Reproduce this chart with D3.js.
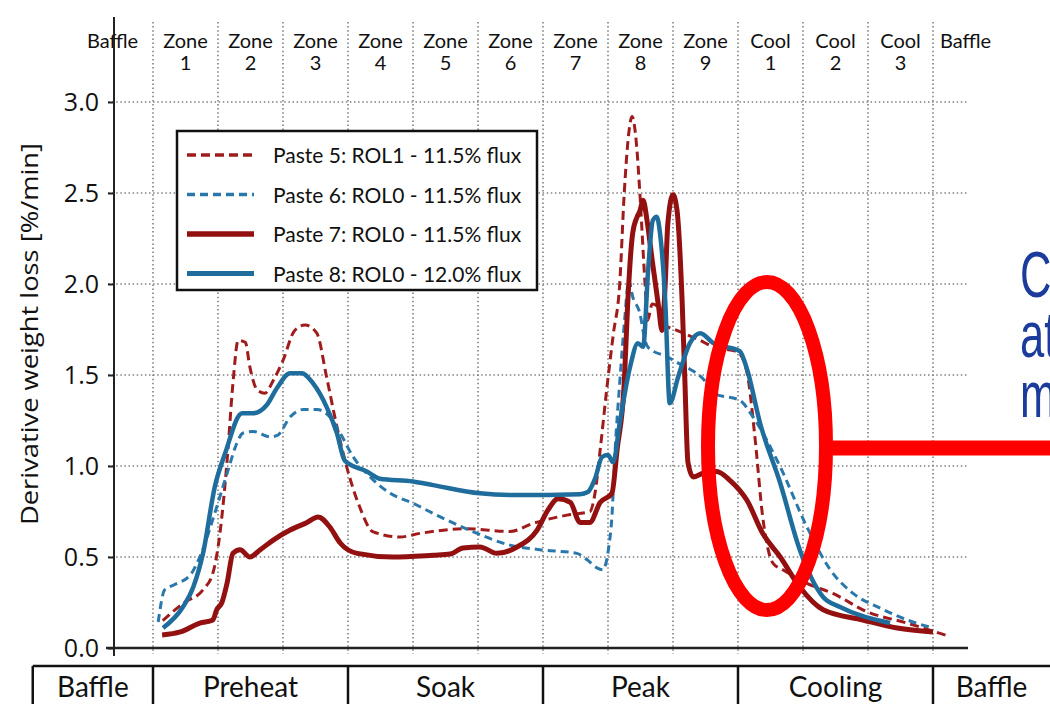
<!DOCTYPE html>
<html>
<head>
<meta charset="utf-8">
<script src="https://d3js.org/d3.v7.min.js"></script>
<style>
  body { margin: 0; background: #fff; }
  svg { display: block; }
  .grid line { stroke: #808080; stroke-width: 1.6; stroke-dasharray: 1.5,2.6; }
  .ytick text { font-family: "Open Sans", sans-serif; font-size: 25px; fill: #111; }
  .zone { font-family: Lato, sans-serif; font-size: 20px; fill: #111; text-anchor: middle; }
  .section { font-family: Lato, sans-serif; font-size: 28px; fill: #111; text-anchor: middle; }
  .legend text { font-family: Lato, sans-serif; font-size: 21px; fill: #111; }
</style>
</head>
<body>
<script>
// zone units: 0 = start of entry baffle, each zone is one unit wide
var zoneLabels = [["Baffle"], ["Zone", "1"], ["Zone", "2"], ["Zone", "3"], ["Zone", "4"], ["Zone", "5"],
  ["Zone", "6"], ["Zone", "7"], ["Zone", "8"], ["Zone", "9"], ["Cool", "1"], ["Cool", "2"], ["Cool", "3"], ["Baffle"]];
var yTicks = [0, 0.5, 1.0, 1.5, 2.0, 2.5, 3.0];
var sectionNames = ["Baffle", "Preheat", "Soak", "Peak", "Cooling", "Baffle"];
var sectionEdges = [-0.85, 1, 4, 7, 10, 13, 14.8];

var paste5 = [[1.15,0.15],[1.46,0.245],[1.77,0.32],[1.92,0.41],[2.03,0.63],[2.14,1.03],[2.23,1.455],[2.31,1.69],
  [2.42,1.68],[2.49,1.545],[2.6,1.42],[2.72,1.40],[2.85,1.47],[3.0,1.58],[3.18,1.745],[3.34,1.775],[3.52,1.73],
  [3.67,1.49],[3.83,1.215],[3.98,0.995],[4.18,0.775],[4.38,0.64],[4.8,0.61],[5.11,0.63],[5.83,0.655],[6.49,0.64],
  [6.85,0.685],[7.37,0.73],[7.72,0.75],[7.8,0.85],[7.88,1.09],[7.98,1.42],[8.08,1.72],[8.18,2.0],[8.25,2.5],
  [8.32,2.83],[8.37,2.92],[8.44,2.76],[8.49,2.5],[8.57,2.0],[8.61,1.80],[8.68,1.89],[8.75,1.88],[8.83,1.785],
  [9.06,1.745],[9.42,1.69],[9.62,1.655],[9.83,1.64],[10.0,1.625],[10.14,1.51],[10.26,1.16],[10.38,0.72],
  [10.54,0.465],[10.69,0.43],[11.06,0.355],[11.46,0.30],[11.98,0.20],[12.6,0.137],[13.2,0.07]];

var paste6 = [[1.08,0.143],[1.18,0.32],[1.31,0.345],[1.57,0.40],[1.72,0.50],[1.95,0.74],[2.14,0.96],[2.29,1.125],
  [2.38,1.18],[2.54,1.19],[2.8,1.16],[2.92,1.17],[3.11,1.27],[3.31,1.31],[3.52,1.31],[3.72,1.27],[3.88,1.18],
  [4.08,1.05],[4.34,0.94],[4.65,0.85],[5.0,0.795],[5.42,0.72],[5.92,0.64],[6.49,0.565],[6.95,0.54],[7.52,0.52],
  [7.68,0.485],[7.83,0.44],[7.92,0.43],[8.01,0.55],[8.06,0.72],[8.11,1.09],[8.18,1.455],[8.26,1.82],[8.32,2.02],
  [8.38,1.93],[8.49,1.84],[8.57,1.69],[8.62,1.65],[8.91,1.60],[9.11,1.56],[9.22,1.54],[9.52,1.455],[9.62,1.40],
  [10.03,1.36],[10.23,1.27],[10.65,0.995],[11.06,0.665],[11.42,0.43],[11.77,0.30],[12.18,0.22],[12.69,0.143],[13.0,0.11]];

var paste7 = [[1.14,0.071],[1.42,0.088],[1.72,0.137],[1.92,0.154],[1.98,0.21],[2.06,0.25],[2.14,0.357],[2.23,0.52],
  [2.34,0.54],[2.49,0.50],[2.65,0.54],[2.85,0.593],[3.11,0.648],[3.37,0.69],[3.54,0.72],[3.72,0.665],[3.88,0.577],
  [4.14,0.52],[4.69,0.50],[5.31,0.51],[5.57,0.516],[5.77,0.55],[6.03,0.555],[6.29,0.52],[6.6,0.555],[6.91,0.648],
  [7.08,0.76],[7.23,0.82],[7.42,0.80],[7.57,0.69],[7.72,0.69],[7.88,0.80],[8.06,0.85],[8.14,1.09],[8.25,1.455],
  [8.3,1.87],[8.38,2.28],[8.45,2.37],[8.49,2.40],[8.54,2.46],[8.6,2.35],[8.68,2.13],[8.78,1.87],[8.83,1.745],
  [8.88,2.0],[8.92,2.33],[9.0,2.49],[9.06,2.41],[9.14,1.91],[9.18,1.5],[9.23,1.02],[9.31,0.94],[9.46,0.96],
  [9.67,0.97],[9.88,0.92],[10.14,0.81],[10.38,0.63],[10.65,0.50],[10.95,0.335],[11.31,0.21],[11.92,0.154],
  [12.45,0.11],[13.0,0.088]];

var paste8 = [[1.154,0.11],[1.46,0.225],[1.62,0.335],[1.77,0.52],[1.95,0.885],[2.11,1.07],[2.37,1.29],[2.54,1.29],
  [2.75,1.335],[2.91,1.43],[3.11,1.51],[3.29,1.51],[3.46,1.455],[3.67,1.325],[3.83,1.18],[3.95,1.03],[4.29,0.97],
  [4.49,0.93],[5.0,0.915],[5.31,0.895],[6.03,0.85],[6.6,0.84],[7.57,0.845],[7.69,0.857],[7.8,0.93],[7.91,1.05],
  [8.0,1.06],[8.08,1.02],[8.18,1.235],[8.34,1.545],[8.46,1.675],[8.54,1.655],[8.62,2.09],[8.69,2.35],[8.75,2.37],
  [8.8,2.28],[8.88,1.91],[8.95,1.345],[9.08,1.49],[9.26,1.675],[9.42,1.73],[9.62,1.675],[10.03,1.63],[10.14,1.53],
  [10.34,1.235],[10.65,0.905],[10.95,0.54],[11.31,0.28],[11.57,0.225],[12.34,0.137]];

var seriesNames = ["Paste 5: ROL1 - 11.5% flux", "Paste 6: ROL0 - 11.5% flux",
  "Paste 7: ROL0 - 11.5% flux", "Paste 8: ROL0 - 12.0% flux"];

var series = [
  {name: seriesNames[0], values: paste5, color: "#a01c1c", width: 3, dash: "9,5"},
  {name: seriesNames[1], values: paste6, color: "#2a78ab", width: 3, dash: "8,5"},
  {name: seriesNames[2], values: paste7, color: "#921010", width: 5, dash: null},
  {name: seriesNames[3], values: paste8, color: "#1f6d9c", width: 4.5, dash: null}
];

var W = 1050, H = 704;
var x = d3.scaleLinear().domain([0, 14]).range([88, 998]);
var y = d3.scaleLinear().domain([0, 3]).range([648, 102]);
var axisX = 114, gridRight = 968;

var svg = d3.select("body").append("svg").attr("width", W).attr("height", H);

// vertical zone dividers
var zoneEdges = d3.range(1, 14);
svg.append("g").attr("class", "grid").selectAll("line")
  .data(zoneEdges).enter().append("line")
  .attr("x1", function(d) { return x(d); }).attr("x2", function(d) { return x(d); })
  .attr("y1", 22).attr("y2", y(0) + 6);

// horizontal grid
svg.append("g").attr("class", "grid").selectAll("line")
  .data(yTicks.slice(1)).enter().append("line")
  .attr("x1", axisX - 6).attr("x2", gridRight)
  .attr("y1", function(d) { return y(d); }).attr("y2", function(d) { return y(d); });

// zone labels along the top
var zl = svg.append("g").selectAll("text").data(zoneLabels).enter().append("text")
  .attr("class", "zone")
  .attr("x", function(d, i) { return x(i + 0.5) - (i === 0 ? 8 : 0); })
  .attr("y", 48);
zl.each(function(d) {
  var t = d3.select(this);
  d.forEach(function(s, k) {
    t.append("tspan").attr("x", t.attr("x")).attr("dy", k === 0 ? 0 : 22).text(s);
  });
});

// y axis
var yAxis = svg.append("g").attr("class", "ytick")
  .attr("transform", "translate(" + axisX + ",0)")
  .call(d3.axisLeft(y).tickValues(yTicks).tickFormat(d3.format(".1f")).tickSize(6).tickPadding(9));
yAxis.select(".domain").remove();
yAxis.selectAll(".tick line").attr("stroke", "#222").attr("stroke-width", 2);

svg.append("line").attr("x1", axisX).attr("x2", axisX).attr("y1", 17).attr("y2", y(0) + 8)
  .attr("stroke", "#222").attr("stroke-width", 2);
svg.append("line").attr("x1", axisX - 8).attr("x2", gridRight).attr("y1", y(0)).attr("y2", y(0))
  .attr("stroke", "#222").attr("stroke-width", 2.5);

svg.append("text")
  .attr("transform", "translate(38,334) rotate(-90)")
  .attr("text-anchor", "middle")
  .attr("textLength", 382).attr("lengthAdjust", "spacingAndGlyphs")
  .style("font-family", "'Open Sans', sans-serif").style("font-size", "23px").style("fill", "#111")
  .text("Derivative weight loss [%/min]");

// curves
var line = d3.line()
  .x(function(d) { return x(d[0]); })
  .y(function(d) { return y(d[1]); })
  .curve(d3.curveMonotoneX);

svg.append("g").selectAll("path").data(series).enter().append("path")
  .attr("d", function(d) { return line(d.values); })
  .attr("fill", "none")
  .attr("stroke", function(d) { return d.color; })
  .attr("stroke-width", function(d) { return d.width; })
  .attr("stroke-dasharray", function(d) { return d.dash; })
  .attr("stroke-linejoin", "round");

// legend
var legend = svg.append("g").attr("class", "legend");
legend.append("rect").attr("x", 177).attr("y", 131).attr("width", 360).attr("height", 159)
  .attr("fill", "#fff").attr("stroke", "#111").attr("stroke-width", 2.5);
var li = legend.selectAll(".item").data(series).enter().append("g")
  .attr("transform", function(d, i) { return "translate(0," + (155 + i * 39.5) + ")"; });
li.append("line").attr("x1", 187).attr("x2", 254).attr("y1", 0).attr("y2", 0)
  .attr("stroke", function(d) { return d.color; })
  .attr("stroke-width", function(d) { return d.width + 0.5; })
  .attr("stroke-dasharray", function(d) { return d.dash; });
li.append("text").attr("x", 273).attr("y", 8).text(function(d) { return d.name; });

// reflow section table at the bottom
var table = svg.append("g");
table.append("line").attr("x1", x(sectionEdges[0])).attr("x2", W).attr("y1", 666).attr("y2", 666)
  .attr("stroke", "#111").attr("stroke-width", 2.5);
table.selectAll(".div").data(sectionEdges.slice(0, -1)).enter().append("line")
  .attr("x1", function(d) { return x(d); }).attr("x2", function(d) { return x(d); })
  .attr("y1", 666).attr("y2", H)
  .attr("stroke", "#111").attr("stroke-width", 2.5);
table.selectAll("text").data(sectionNames).enter().append("text")
  .attr("class", "section")
  .attr("x", function(d, i) { return (x(sectionEdges[i]) + x(sectionEdges[i + 1])) / 2; })
  .attr("y", 697)
  .text(function(d) { return d; });

// red annotation
svg.append("ellipse").attr("cx", 767).attr("cy", 446).attr("rx", 59).attr("ry", 164)
  .attr("fill", "none").attr("stroke", "#ff0000").attr("stroke-width", 14);
svg.append("line").attr("x1", 826).attr("x2", W).attr("y1", 448).attr("y2", 448)
  .attr("stroke", "#ff0000").attr("stroke-width", 15);

// note text, cut off by the right edge as in the slide
var note = ["Change", "at", "max"];
var noteText = svg.append("text")
  .attr("transform", "translate(1020,297) scale(0.68,1)")
  .style("font-family", "'Liberation Sans', Arial, sans-serif").style("font-size", "64px")
  .style("fill", "#1c3c9c");
noteText.selectAll("tspan").data(note).enter().append("tspan")
  .attr("x", 0).attr("dy", function(d, i) { return i === 0 ? 0 : 60; })
  .text(function(d) { return d; });
</script>
</body>
</html>
